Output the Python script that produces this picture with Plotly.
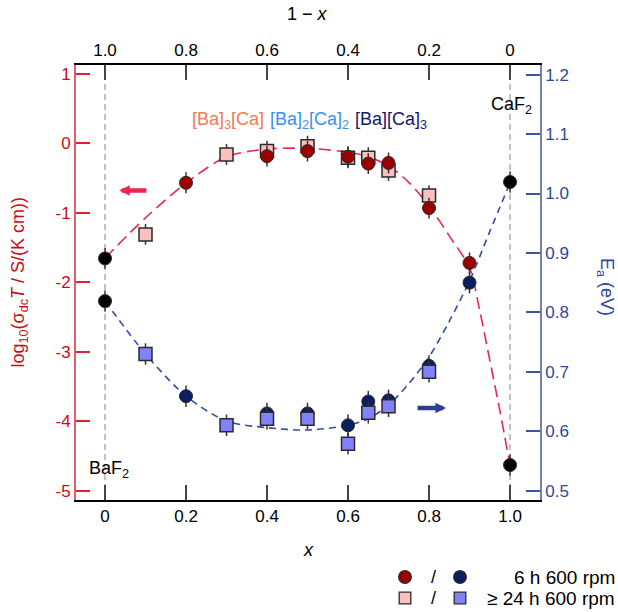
import plotly.graph_objects as go

# ---- data ----
x_6h = [0.2, 0.4, 0.5, 0.6, 0.65, 0.7, 0.8, 0.9]
log_6h = [-0.566, -0.183, -0.11, -0.19, -0.29, -0.28, -0.93, -1.72]
ea_6h = [0.659, 0.630, 0.630, 0.610, 0.650, 0.652, 0.710, 0.850]

x_24h = [0.1, 0.3, 0.4, 0.5, 0.6, 0.65, 0.7, 0.8]
log_24h = [-1.31, -0.158, -0.11, -0.04, -0.206, -0.206, -0.39, -0.75]
ea_24h = [0.730, 0.610, 0.621, 0.621, 0.579, 0.631, 0.642, 0.700]

x_end = [0.0, 1.0]
log_end = [-1.655, -4.63]
ea_end = [0.819, 1.0195]

log_err = 0.15
ea_err = 0.018

# guide curves
fit_log_x = [0, 0.1, 0.2, 0.3, 0.4, 0.5, 0.6, 0.65, 0.7, 0.75, 0.8, 0.85, 0.9, 0.925, 0.95, 0.975, 1.0]
fit_log_y = [-1.65, -1.07, -0.57, -0.19, -0.08, -0.07, -0.125, -0.19, -0.32, -0.56, -0.90, -1.33, -1.79, -2.40, -3.12, -3.85, -4.63]
fit_ea_x = [0, 0.1, 0.2, 0.3, 0.4, 0.5, 0.6, 0.65, 0.7, 0.75, 0.8, 0.85, 0.9, 0.95, 1.0]
fit_ea_y = [0.819, 0.730, 0.659, 0.617, 0.606, 0.602, 0.610, 0.621, 0.644, 0.680, 0.725, 0.785, 0.853, 0.936, 1.018]

x_ticks = [0, 0.2, 0.4, 0.6, 0.8, 1.0]
x_ticktext = ['0', '0.2', '0.4', '0.6', '0.8', '1.0']
top_ticktext = ['1.0', '0.8', '0.6', '0.4', '0.2', '0']
log_ticks = [-5, -4, -3, -2, -1, 0, 1]
log_ticktext = ['-5', '-4', '-3', '-2', '-1', '0', '1']
ea_ticks = [0.5, 0.6, 0.7, 0.8, 0.9, 1.0, 1.1, 1.2]
ea_ticktext = ['0.5', '0.6', '0.7', '0.8', '0.9', '1.0', '1.1', '1.2']

# ---- styles ----
RED_LINE = '#e8264f'
BLUE_LINE = '#2f4fa0'
RED_FILL = '#9b0000'
NAVY_FILL = '#0b1f5e'
PINK_FILL = '#fcc0c0'
LBLUE_FILL = '#8282ff'
EDGE = '#2a2a2a'
FONT = 'Liberation Sans, Arial, Helvetica, sans-serif'

XR = [-0.0716, 1.074]
def err(v):
    return dict(type='constant', value=v, color='#333333', thickness=1.5, width=0)

fig = go.Figure()

# dashed guides
fig.add_trace(go.Scatter(x=fit_log_x, y=fit_log_y, mode='lines', yaxis='y', xaxis='x',
                         line=dict(color=RED_LINE, width=1.6, dash='12px,6px', shape='spline', smoothing=0.8),
                         hoverinfo='skip'))
fig.add_trace(go.Scatter(x=fit_ea_x, y=fit_ea_y, mode='lines', yaxis='y2', xaxis='x',
                         line=dict(color=BLUE_LINE, width=1.6, dash='7px,5px', shape='spline', smoothing=0.8),
                         hoverinfo='skip'))

# conductivity (left axis)
fig.add_trace(go.Scatter(x=x_24h, y=log_24h, mode='markers', yaxis='y', error_y=err(log_err),
                         marker=dict(symbol='square', size=13, color=PINK_FILL, line=dict(color=EDGE, width=1.5))))
fig.add_trace(go.Scatter(x=x_6h, y=log_6h, mode='markers', yaxis='y', error_y=err(log_err),
                         marker=dict(symbol='circle', size=13, color=RED_FILL, line=dict(color=EDGE, width=1))))
fig.add_trace(go.Scatter(x=x_end, y=log_end, mode='markers', yaxis='y', error_y=err(log_err),
                         marker=dict(symbol='circle', size=13, color='black', line=dict(color=EDGE, width=1))))

# activation energy (right axis)
fig.add_trace(go.Scatter(x=x_6h, y=ea_6h, mode='markers', yaxis='y2', error_y=err(ea_err),
                         marker=dict(symbol='circle', size=13, color=NAVY_FILL, line=dict(color=EDGE, width=1))))
fig.add_trace(go.Scatter(x=x_24h, y=ea_24h, mode='markers', yaxis='y2', error_y=err(ea_err),
                         marker=dict(symbol='square', size=13, color=LBLUE_FILL, line=dict(color=EDGE, width=1.5))))
fig.add_trace(go.Scatter(x=x_end, y=ea_end, mode='markers', yaxis='y2', error_y=err(ea_err),
                         marker=dict(symbol='circle', size=13, color='black', line=dict(color=EDGE, width=1))))

# invisible trace to activate top axis
fig.add_trace(go.Scatter(x=x_end, y=log_end, xaxis='x2', yaxis='y', mode='markers',
                         marker=dict(opacity=0), hoverinfo='skip'))

common_x = dict(range=XR, tickvals=x_ticks, ticks='inside', ticklen=15, tickwidth=1.5,
                tickcolor='#444444', showline=True, linecolor='black', linewidth=1.5,
                showgrid=False, zeroline=False, tickfont=dict(size=17, color='black'))

fig.update_layout(
    width=618, height=612,
    margin=dict(l=76, r=78, t=65, b=112),
    paper_bgcolor='white', plot_bgcolor='white', showlegend=False,
    font=dict(family=FONT, size=17, color='black'),
    xaxis=dict(**common_x, ticktext=x_ticktext),
    xaxis2=dict(**common_x, ticktext=top_ticktext, overlaying='x', side='top'),
    yaxis=dict(range=[-5.134, 1.13], tickvals=log_ticks, ticktext=log_ticktext,
               ticks='inside', ticklen=14, tickwidth=1.5, tickcolor='#dd2233',
               showline=True, linecolor='#e0606a', linewidth=1.8,
               showgrid=False, zeroline=False, tickfont=dict(size=17, color='#cc0a14')),
    yaxis2=dict(range=[0.4843, 1.2163], tickvals=ea_ticks, ticktext=ea_ticktext,
                overlaying='y', side='right',
                ticks='inside', ticklen=14, tickwidth=1.5, tickcolor='#3a55a5',
                showline=True, linecolor='#7080bb', linewidth=1.8,
                showgrid=False, zeroline=False, tickfont=dict(size=17, color='#2a4a9a')),
)

# vertical dashed reference lines at pure BaF2 / CaF2
for xv in x_end:
    fig.add_shape(type='line', xref='x', yref='paper', x0=xv, x1=xv, y0=0, y1=1,
                  line=dict(color='#9a9a9a', width=1.2, dash='6px,4px'), layer='below')

def A(**kw):
    d = dict(showarrow=False, xanchor='center', yanchor='middle')
    d.update(kw)
    return d

ann = []
# axis titles
ann.append(A(text='log<sub>10</sub>(σ<sub>dc</sub><i>T</i> / S/(K cm))', xref='paper', yref='paper',
             x=-0.1207, y=0.5, textangle=-90, font=dict(size=18, color='#cc0a14')))
ann.append(A(text='E<sub>a</sub> (eV)', xref='paper', yref='paper',
             x=1.140, y=0.49, textangle=90, font=dict(size=18, color='#2a4a9a')))
ann.append(A(text='<i>x</i>', xref='paper', yref='paper', x=0.5, y=-0.115, font=dict(size=18)))
ann.append(A(text='1 − <i>x</i>', xref='paper', yref='paper', x=0.498, y=1.117, font=dict(size=18)))
# composition labels
ann.append(A(text='[Ba]<sub>3</sub>[Ca]', xref='x', yref='y', x=0.21, y=0.33, xanchor='left',
             font=dict(size=18, color='#f27a55')))
ann.append(A(text='[Ba]<sub>2</sub>[Ca]<sub>2</sub>', xref='x', yref='y', x=0.402, y=0.33, xanchor='left',
             font=dict(size=18, color='#3a90f0')))
ann.append(A(text='[Ba][Ca]<sub>3</sub>', xref='x', yref='y', x=0.612, y=0.33, xanchor='left',
             font=dict(size=18, color='#161670')))
ann.append(A(text='CaF<sub>2</sub>', xref='x', yref='y', x=1.003, y=0.55, font=dict(size=18)))
ann.append(A(text='BaF<sub>2</sub>', xref='x', yref='y', x=0.01, y=-4.70, font=dict(size=18)))
# arrows
ann.append(dict(text='', xref='x', yref='y', x=0.035, y=-0.677, axref='x', ayref='y',
                ax=0.106, ay=-0.677, showarrow=True, arrowhead=2, arrowsize=0.47,
                arrowwidth=4.5, arrowcolor='#e8264f'))
ann.append(dict(text='', xref='x', yref='y2', x=0.842, y=0.639, axref='x', ayref='y2',
                ax=0.768, ay=0.639, showarrow=True, arrowhead=2, arrowsize=0.47,
                arrowwidth=4.5, arrowcolor='#2f3f90'))

# custom legend
def px2x(px):
    return (px - 76) / 464.0
def py2y(py):
    return (500 - py) / 435.0

rows = [(577, 'circle', RED_FILL, NAVY_FILL, '6 h 600 rpm'),
        (598, 'rect', PINK_FILL, LBLUE_FILL, '≥ 24 h 600 rpm')]
for py, kind, c1, c2, label in rows:
    for px, col in [(405, c1), (460, c2)]:
        r = 6.3 if kind == 'circle' else 5.8
        fig.add_shape(type=kind, xref='paper', yref='paper', xsizemode='pixel', ysizemode='pixel',
                      xanchor=px2x(px), yanchor=py2y(py), x0=-r, x1=r, y0=-r, y1=r,
                      fillcolor=col, line=dict(color=EDGE, width=1.3))
    ann.append(A(text='/', xref='paper', yref='paper', x=px2x(433), y=py2y(py), font=dict(size=18)))
    ann.append(A(text=label, xref='paper', yref='paper', x=px2x(617), y=py2y(py),
                 xanchor='right', font=dict(size=19)))

fig.update_layout(annotations=ann)
fig.write_html('out.html')
